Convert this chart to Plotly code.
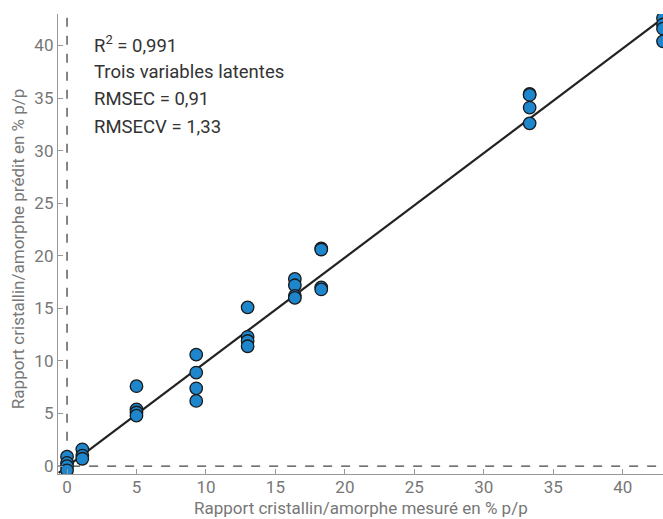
import plotly.graph_objects as go

measured = [0, 0, 0, 0,
            1.1, 1.1, 1.1,
            5, 5, 5, 5,
            9.3, 9.3, 9.3, 9.3,
            13, 13, 13, 13,
            16.4, 16.4, 16.4, 16.4,
            18.3, 18.3, 18.3, 18.3,
            33.3, 33.3, 33.3, 33.3,
            42.9, 42.9, 42.9, 42.9]
predicted = [0.9, 0.3, 0.0, -0.4,
             1.6, 1.0, 0.7,
             7.6, 5.4, 5.1, 4.8,
             10.6, 8.9, 7.4, 6.2,
             15.1, 12.3, 11.9, 11.4,
             17.8, 17.2, 16.2, 16.0,
             20.7, 20.6, 17.0, 16.8,
             35.4, 35.3, 34.1, 32.6,
             42.6, 42.0, 41.6, 40.4]
fit_x = [-0.6, 42.9]
fit_y = [-0.65, 42.6]
stats_text = ["R<sup>2</sup> = 0,991", "Trois variables latentes", "RMSEC = 0,91", "RMSECV = 1,33"]
x_title = "Rapport cristallin/amorphe mesuré en % p/p"
y_title = "Rapport cristallin/amorphe prédit en % p/p"
ticks = [0, 5, 10, 15, 20, 25, 30, 35, 40]

fig = go.Figure()
fig.add_shape(type="line", x0=0, x1=0, y0=-1, y1=44, xref="x", yref="y",
              line=dict(color="#444", width=1.3, dash="dash"), layer="below")
fig.add_shape(type="line", x0=-1, x1=44, y0=0, y1=0, xref="x", yref="y",
              line=dict(color="#444", width=1.3, dash="dash"), layer="below")
fig.add_trace(go.Scatter(x=fit_x, y=fit_y, mode="lines",
                         line=dict(color="#222", width=2.2), showlegend=False))
fig.add_trace(go.Scatter(x=measured, y=predicted, mode="markers",
                         marker=dict(size=12.5, color="#1e86cc",
                                     line=dict(color="#1a1a1a", width=1.3)),
                         showlegend=False))

for i, t in enumerate(stats_text):
    fig.add_annotation(x=0.056, y=0.933 - i * 0.0594, xref="paper", yref="paper",
                       text=t, showarrow=False, xanchor="left", yanchor="middle",
                       font=dict(family="Roboto", size=18.5, color="#333"))

fig.add_annotation(x=0.5, y=-0.0735, xref="paper", yref="paper", text=x_title,
                   showarrow=False, xanchor="center", yanchor="middle",
                   font=dict(family="Roboto", size=17, color="#777"))
fig.add_annotation(x=-0.066, y=0.489, xref="paper", yref="paper", text=y_title,
                   showarrow=False, xanchor="center", yanchor="middle", textangle=-90,
                   font=dict(family="Roboto", size=17, color="#777"))

axis_common = dict(showgrid=False, zeroline=False, showline=True, linecolor="#999",
                   linewidth=1.3, ticks="inside", ticklen=5, tickcolor="#999",
                   tickfont=dict(family="Roboto", size=17, color="#777"),
                   tickvals=ticks, automargin=False)
fig.update_xaxes(range=[-0.65, 42.9], ticklabelstandoff=-3, **axis_common)
fig.update_yaxes(range=[-0.75, 43.0], **axis_common)
fig.update_layout(width=663, height=519, margin=dict(l=58, r=0, t=14, b=45),
                  plot_bgcolor="white", paper_bgcolor="white")
fig.write_html("out.html", config={"displayModeBar": False},
               post_script="document.body.style.margin='0';document.body.style.overflow='hidden';")
